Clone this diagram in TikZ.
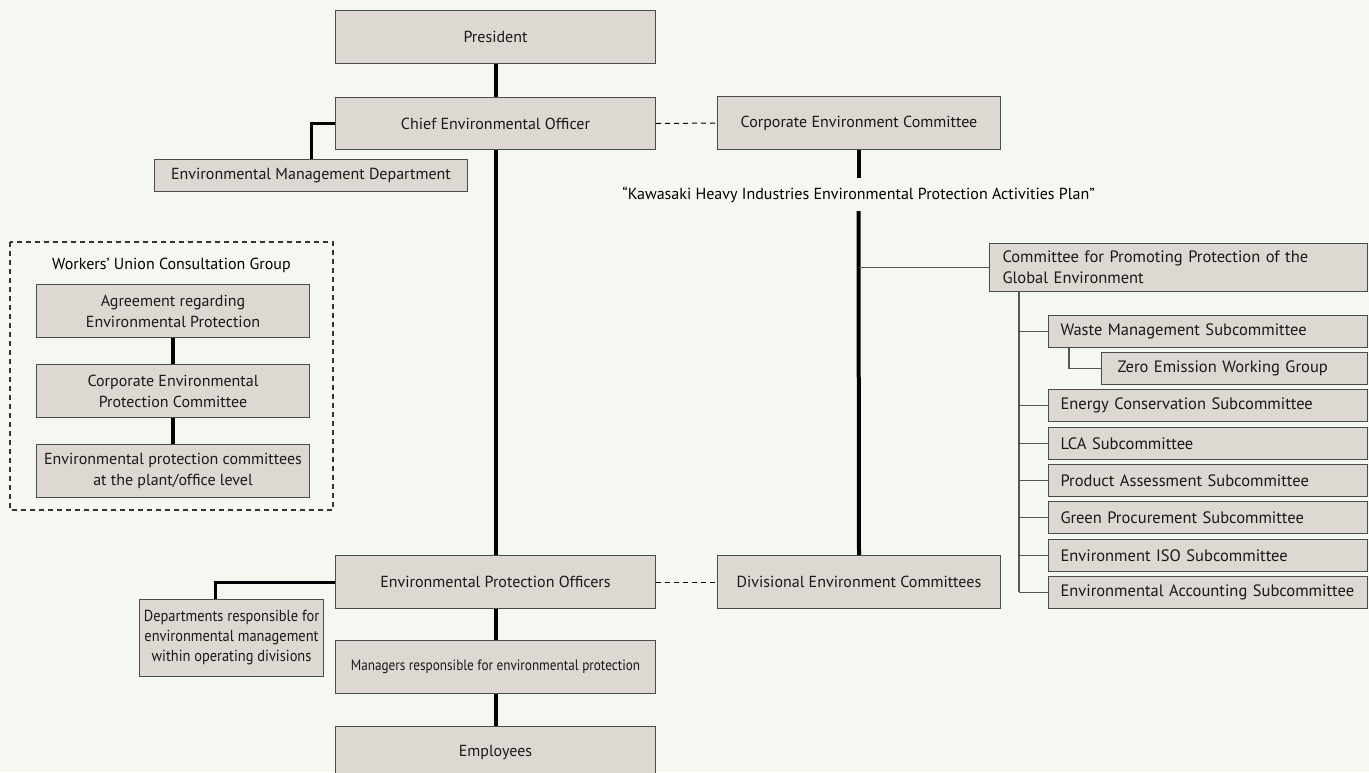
\documentclass[tikz,border=0pt]{standalone}
\usepackage{fontspec}
\setmainfont{PT Sans}
\newfontfamily\condfont[FakeStretch=0.88]{PT Sans}
\newfontfamily\semifont[FakeStretch=0.9]{PT Sans}
\definecolor{bgcol}{RGB}{245,247,241}
\definecolor{boxfill}{RGB}{221,216,210}
\definecolor{boxline}{RGB}{75,75,75}
\definecolor{thingray}{RGB}{85,85,85}
\newcommand\fs{\fontsize{16}{21}\selectfont}
\newcommand\fsb{\fontsize{16.5}{21}\selectfont}
\tikzset{
  box/.style={draw=boxline, fill=boxfill, line width=1pt, inner sep=0pt,
    anchor=north west, align=center, font=\fs, text=black!90},
  lbox/.style={box, align=left, font=\fsb},
  tline/.style={line width=4pt, black},
  bline/.style={line width=3pt, black},
  thinline/.style={line width=1.4pt, thingray},
  dline/.style={line width=1pt, black, dash pattern=on 5pt off 4pt},
}
\begin{document}
\begin{tikzpicture}[x=1pt,y=-1pt]
\fill[bgcol] (0,0) rectangle (1369,772);
\useasboundingbox (0,0) rectangle (1369,772);

% main column
\node[box, minimum width=320pt, minimum height=53pt] (pres) at (335,10) {President};
\node[box, minimum width=320pt, minimum height=52pt] (ceo) at (335,97) {Chief Environmental Officer};
\node[box, minimum width=313pt, minimum height=32pt] (emd) at (154,159) {Environmental Management Department};
\node[box, minimum width=283pt, minimum height=53pt] (cec) at (717,96) {Corporate Environment Committee};
\node[font=\fs, inner sep=0pt, minimum height=33pt, minimum width=10pt] (quote) at (858.5,194.5)
  {“Kawasaki Heavy Industries Environmental Protection Activities Plan”};

% workers' union group
\draw[line width=1.2pt, black!80, dash pattern=on 5pt off 4pt] (10,242) rectangle (333,510);
\node[font=\fs, inner sep=0pt] (wucg) at (171.5,265) {Workers’ Union Consultation Group};
\node[box, minimum width=273pt, minimum height=53pt] (agree) at (36,284) {Agreement regarding\\Environmental Protection};
\node[box, minimum width=273pt, minimum height=53pt] (cepc) at (36,364) {Corporate Environmental\\Protection Committee};
\node[box, minimum width=273pt, minimum height=53pt] (epcp) at (36,444) {Environmental protection committees\\at the plant/office level};

% right committees
\node[lbox, text width=352pt, inner xsep=13pt, minimum height=48pt] (cpp) at (989,243) {Committee for Promoting Protection of the\\Global Environment};
\node[lbox, text width=295pt, inner xsep=12pt, minimum height=32pt] (waste) at (1048,315) {Waste Management Subcommittee};
\node[lbox, text width=234pt, inner xsep=16pt, minimum height=32pt] (zero) at (1101,352) {Zero Emission Working Group};
\node[lbox, text width=295pt, inner xsep=12pt, minimum height=32pt] (energy) at (1048,389) {Energy Conservation Subcommittee};
\node[lbox, text width=295pt, inner xsep=12pt, minimum height=32pt] (lca) at (1048,427) {LCA Subcommittee};
\node[lbox, text width=295pt, inner xsep=12pt, minimum height=32pt] (product) at (1048,464) {Product Assessment Subcommittee};
\node[lbox, text width=295pt, inner xsep=12pt, minimum height=32pt] (green) at (1048,501) {Green Procurement Subcommittee};
\node[lbox, text width=295pt, inner xsep=12pt, minimum height=32pt] (iso) at (1048,539) {Environment ISO Subcommittee};
\node[lbox, text width=295pt, inner xsep=12pt, minimum height=32pt] (acct) at (1048,576) {Environmental Accounting Subcommittee};

% lower part
\node[box, minimum width=320pt, minimum height=53pt] (epo) at (335,555) {Environmental Protection Officers};
\node[box, minimum width=283pt, minimum height=53pt] (dec) at (717,555) {Divisional Environment Committees};
\node[box, minimum width=184pt, minimum height=77pt, font=\semifont\fontsize{16}{20}\selectfont] (dept) at (139,599) {Departments responsible for\\environmental management\\within operating divisions};
\node[box, minimum width=320pt, minimum height=53pt, font=\condfont\fontsize{15}{19}\selectfont] (mgr) at (335,640) {Managers responsible for environmental protection};
\node[box, minimum width=320pt, minimum height=53pt] (emp) at (335,726) {Employees};

% coordinates for branch ends
\coordinate (emdtop) at (311,159);
\coordinate (depttop) at (215,599);
\coordinate (trunk) at (1019,291);
\coordinate (trunkend) at (1019,592);

% connectors
\draw[tline] (pres.south) -- (ceo.north);
\draw[tline] (ceo.south) -- (epo.north);
\draw[bline] (ceo.west) -| (emdtop);
\draw[dline] (ceo.east) -- (cec.west);
\draw[tline] (cec.south) -- (cec.south |- quote.north);
\draw[tline] (quote.south) -- (dec.north);
\draw[thinline] (cpp.west -| quote.south) -- (cpp.west);
\draw[thinline] (trunk) -- (trunkend);
\foreach \n in {waste,energy,lca,product,green,iso,acct}
  \draw[thinline] (\n.west -| trunk) -- (\n.west);
\draw[thinline] ([xshift=21pt]waste.south west) |- (zero.west);
\draw[tline] (agree.south) -- (cepc.north);
\draw[tline] (cepc.south) -- (epcp.north);
\draw[dline] (epo.east) -- (dec.west);
\draw[bline] (epo.west) -| (depttop);
\draw[tline] (epo.south) -- (mgr.north);
\draw[tline] (mgr.south) -- (emp.north);
\end{tikzpicture}
\end{document}
